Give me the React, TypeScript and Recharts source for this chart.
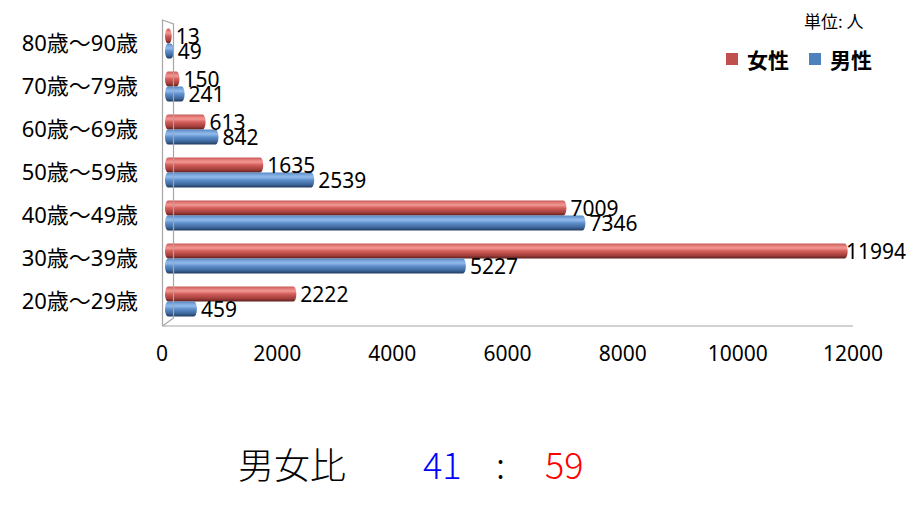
import React from "react";
import { BarChart, Bar, XAxis, YAxis, LabelList } from "recharts";

const AGE_GROUPS = [
  "80歳～90歳",
  "70歳～79歳",
  "60歳～69歳",
  "50歳～59歳",
  "40歳～49歳",
  "30歳～39歳",
  "20歳～29歳",
];
const FEMALE = [13, 150, 613, 1635, 7009, 11994, 2222];
const MALE = [49, 241, 842, 2539, 7346, 5227, 459];
const X_TICKS = [0, 2000, 4000, 6000, 8000, 10000, 12000];
const SERIES = [
  { key: "female", name: "女性", color: "#C0504D" },
  { key: "male", name: "男性", color: "#4F81BD" },
];
const RATIO_MALE = 41;
const RATIO_FEMALE = 59;

const data = AGE_GROUPS.map((age, i) => ({
  age,
  female: FEMALE[i],
  male: MALE[i],
}));

const NUM_FONT = '"Noto Sans", "Noto Sans CJK JP", sans-serif';
const CJK_FONT = '"Noto Sans CJK JP", "Noto Sans", sans-serif';

const PLOT_LEFT = 168;
const PLOT_RIGHT = 845;
const CHART_W = 908;

// cylinder-ish bar with elliptical end caps
function Cylinder(props: any) {
  const { x, y, width, height, fill } = props;
  if (height == null || width == null) return null;
  const r = 3;
  const ry = height / 2;
  const d = `M ${x} ${y} L ${x + width} ${y} A ${r} ${ry} 0 0 1 ${x + width} ${
    y + height
  } L ${x} ${y + height} A ${r} ${ry} 0 0 1 ${x} ${y} Z`;
  return <path d={d} fill={fill} />;
}

// value label right of the bar, pushed back inside when it would run off the edge
function BarValue(props: any) {
  const { x, y, width, height, value } = props;
  const est = String(value).length * 12;
  let tx = x + width + 7;
  if (tx + est > CHART_W - 2) tx = CHART_W - 2 - est;
  return (
    <text
      x={tx}
      y={y + height / 2}
      dominantBaseline="central"
      fontSize={21}
      fontFamily={NUM_FONT}
      fill="#000"
    >
      {value}
    </text>
  );
}

// tick labels sit a bit wider than the bars (3d perspective)
function XTick(props: any) {
  const { x, y, payload } = props;
  const nx = 162 + (x - PLOT_LEFT) * (691 / (PLOT_RIGHT - PLOT_LEFT));
  return (
    <text
      x={nx}
      y={y}
      dy="0.71em"
      textAnchor="middle"
      fontSize={21}
      fontFamily={NUM_FONT}
      fill="#000"
    >
      {payload.value}
    </text>
  );
}

export default function App() {
  return (
    <div
      style={{
        position: "absolute",
        left: 0,
        top: 0,
        width: CHART_W,
        height: 505,
        background: "#fff",
        overflow: "hidden",
      }}
    >
      <BarChart
        layout="vertical"
        width={CHART_W}
        height={505}
        data={data}
        barSize={15}
        barGap={0}
        margin={{ top: 21.5, right: CHART_W - PLOT_RIGHT, left: 0, bottom: 142.5 }}
      >
        <defs>
          <linearGradient id="redCyl" x1="0" y1="0" x2="0" y2="1">
            <stop offset="0%" stopColor="#c45a57" />
            <stop offset="15%" stopColor="#e57b78" />
            <stop offset="30%" stopColor="#f29894" />
            <stop offset="50%" stopColor="#d35e5a" />
            <stop offset="80%" stopColor="#a23e3b" />
            <stop offset="100%" stopColor="#5c201e" />
          </linearGradient>
          <linearGradient id="blueCyl" x1="0" y1="0" x2="0" y2="1">
            <stop offset="0%" stopColor="#5584bf" />
            <stop offset="15%" stopColor="#7aa6dc" />
            <stop offset="30%" stopColor="#93bbec" />
            <stop offset="50%" stopColor="#5f90cc" />
            <stop offset="80%" stopColor="#3d679b" />
            <stop offset="100%" stopColor="#1f3a5c" />
          </linearGradient>
        </defs>
        <XAxis
          type="number"
          domain={[0, 12000]}
          ticks={X_TICKS}
          height={40}
          axisLine={false}
          tickLine={false}
          tickSize={0}
          tickMargin={24}
          tick={<XTick />}
          interval={0}
        />
        <YAxis
          type="category"
          dataKey="age"
          width={PLOT_LEFT}
          axisLine={false}
          tickLine={false}
          tickSize={0}
          tickMargin={30}
          interval={0}
          tick={{ fontSize: 22, fill: "#000", fontFamily: NUM_FONT }}
        />
        <Bar
          dataKey="female"
          name="女性"
          fill="url(#redCyl)"
          shape={(p: any) => <Cylinder {...p} />}
          isAnimationActive={false}
        >
          <LabelList dataKey="female" content={<BarValue />} />
        </Bar>
        <Bar
          dataKey="male"
          name="男性"
          fill="url(#blueCyl)"
          shape={(p: any) => <Cylinder {...p} />}
          isAnimationActive={false}
        >
          <LabelList dataKey="male" content={<BarValue />} />
        </Bar>
      </BarChart>

      {/* 3d wall / floor edges */}
      <svg
        width={CHART_W}
        height={505}
        style={{ position: "absolute", left: 0, top: 0, pointerEvents: "none" }}
      >
        <g stroke="#a6a6a6" strokeWidth={1.2} fill="none">
          <polyline points="162.5,326 162.5,20 173.5,24 173.5,318 162.5,326" />
          <line x1={162.5} y1={326} x2={853} y2={326} />
        </g>
      </svg>

      {/* legend */}
      <div
        style={{
          position: "absolute",
          left: 726,
          top: 45,
          display: "flex",
          alignItems: "center",
          fontFamily: CJK_FONT,
          whiteSpace: "nowrap",
        }}
      >
        {SERIES.map((s, i) => (
          <span
            key={s.key}
            style={{ display: "inline-flex", alignItems: "center", marginLeft: i ? 20 : 0 }}
          >
            <span
              style={{
                width: 12,
                height: 12,
                background: s.color,
                display: "inline-block",
                marginRight: 9,
              }}
            />
            <span style={{ fontSize: 21, fontWeight: 700, color: "#000", lineHeight: "28px" }}>
              {s.name}
            </span>
          </span>
        ))}
      </div>

      <div
        style={{
          position: "absolute",
          left: 804,
          top: 8,
          fontSize: 17,
          fontFamily: CJK_FONT,
          color: "#000",
          whiteSpace: "nowrap",
        }}
      >
        単位: 人
      </div>

      <div
        style={{
          position: "absolute",
          left: 0,
          top: 438,
          width: CHART_W,
          height: 50,
          fontFamily: CJK_FONT,
          fontWeight: 300,
          fontSize: 36,
          lineHeight: "50px",
          whiteSpace: "nowrap",
        }}
      >
        <span style={{ position: "absolute", left: 238, color: "#000" }}>男女比</span>
        <span style={{ position: "absolute", left: 423, color: "#0000FF" }}>{RATIO_MALE}</span>
        <span style={{ position: "absolute", left: 496, color: "#000" }}>:</span>
        <span style={{ position: "absolute", left: 545, color: "#FF0000" }}>{RATIO_FEMALE}</span>
      </div>
    </div>
  );
}
